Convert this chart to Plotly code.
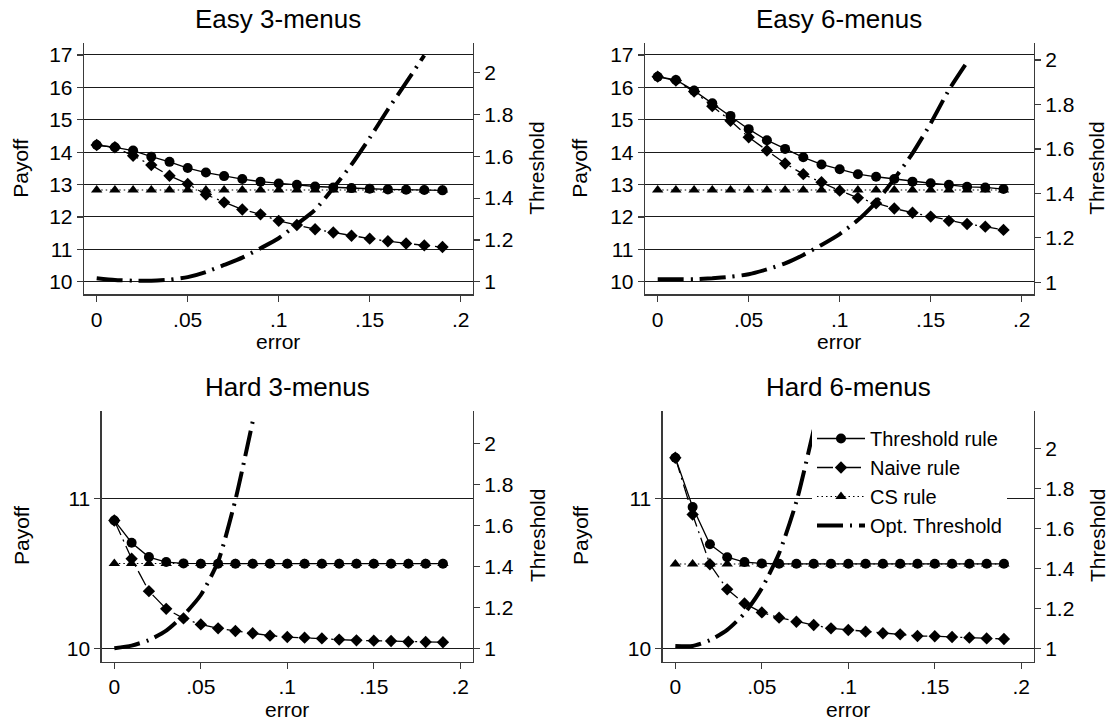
import plotly.graph_objects as go

# ---------------- data ----------------
error = [0.00, 0.01, 0.02, 0.03, 0.04, 0.05, 0.06, 0.07, 0.08, 0.09,
         0.10, 0.11, 0.12, 0.13, 0.14, 0.15, 0.16, 0.17, 0.18, 0.19]

# Easy 3-menus
thr_e3 = [14.22, 14.15, 14.05, 13.86, 13.70, 13.51, 13.37, 13.26, 13.17, 13.09,
          13.03, 12.99, 12.94, 12.91, 12.89, 12.87, 12.85, 12.84, 12.83, 12.82]
naive_e3 = [14.22, 14.15, 13.89, 13.60, 13.27, 13.02, 12.69, 12.45, 12.23, 12.08,
            11.88, 11.75, 11.62, 11.52, 11.42, 11.33, 11.25, 11.18, 11.12, 11.07]
cs_e3 = [12.83, 12.83, 12.83, 12.83, 12.83, 12.83, 12.83, 12.83, 12.83, 12.83,
         12.83, 12.83, 12.83, 12.83, 12.83, 12.83, 12.83, 12.83, 12.83, 12.83]
opt_err_e3 = [0.00, 0.01, 0.02, 0.03, 0.04, 0.05, 0.06, 0.07, 0.08, 0.09,
              0.10, 0.11, 0.12, 0.13, 0.14, 0.15, 0.16, 0.17, 0.18]
opt_e3 = [1.016, 1.008, 1.005, 1.005, 1.010, 1.022, 1.046, 1.080, 1.115, 1.160,
          1.208, 1.275, 1.344, 1.448, 1.560, 1.688, 1.824, 1.952, 2.083]

# Easy 6-menus
thr_e6 = [16.33, 16.23, 15.90, 15.51, 15.12, 14.71, 14.37, 14.10, 13.84, 13.62,
          13.47, 13.32, 13.24, 13.17, 13.09, 13.04, 12.99, 12.93, 12.91, 12.86]
naive_e6 = [16.33, 16.21, 15.87, 15.42, 14.97, 14.46, 14.05, 13.65, 13.32, 13.07,
            12.81, 12.59, 12.42, 12.26, 12.13, 12.01, 11.88, 11.78, 11.70, 11.60]
cs_e6 = [12.83, 12.83, 12.83, 12.83, 12.83, 12.83, 12.83, 12.83, 12.83, 12.83,
         12.83, 12.83, 12.83, 12.83, 12.83, 12.83, 12.83, 12.83, 12.83, 12.83]
opt_err_e6 = [0.00, 0.01, 0.02, 0.03, 0.04, 0.05, 0.06, 0.07, 0.08, 0.09,
              0.10, 0.11, 0.12, 0.13, 0.14, 0.15, 0.16, 0.17]
opt_e6 = [1.014, 1.014, 1.014, 1.018, 1.025, 1.036, 1.058, 1.085, 1.123, 1.168,
          1.217, 1.280, 1.360, 1.465, 1.580, 1.715, 1.865, 1.990]

# Hard 3-menus
thr_h3 = [10.852, 10.704, 10.608, 10.575, 10.566, 10.564, 10.564, 10.564, 10.564, 10.564,
          10.564, 10.564, 10.564, 10.564, 10.564, 10.564, 10.564, 10.564, 10.564, 10.564]
naive_h3 = [10.852, 10.597, 10.381, 10.263, 10.199, 10.159, 10.133, 10.115, 10.100, 10.084,
            10.075, 10.071, 10.066, 10.058, 10.053, 10.051, 10.049, 10.044, 10.042, 10.040]
cs_h3 = [10.565, 10.565, 10.565, 10.565, 10.565, 10.565, 10.565, 10.565, 10.565, 10.565,
         10.565, 10.565, 10.565, 10.565, 10.565, 10.565, 10.565, 10.565, 10.565, 10.565]
opt_err_h3 = [0.00, 0.01, 0.02, 0.03, 0.04, 0.05, 0.06, 0.07, 0.08]
opt_h3 = [1.000, 1.013, 1.040, 1.086, 1.161, 1.260, 1.423, 1.724, 2.106]

# Hard 6-menus
thr_h6 = [11.270, 10.942, 10.693, 10.607, 10.575, 10.566, 10.563, 10.563, 10.563, 10.563,
          10.563, 10.563, 10.563, 10.563, 10.563, 10.563, 10.563, 10.563, 10.563, 10.563]
naive_h6 = [11.270, 10.892, 10.560, 10.393, 10.299, 10.239, 10.204, 10.177, 10.155, 10.133,
            10.122, 10.111, 10.100, 10.093, 10.082, 10.080, 10.075, 10.071, 10.066, 10.062]
cs_h6 = [10.562, 10.562, 10.562, 10.562, 10.562, 10.562, 10.562, 10.562, 10.562, 10.562,
         10.562, 10.562, 10.562, 10.562, 10.562, 10.562, 10.562, 10.562, 10.562, 10.562]
opt_err_h6 = [0.00, 0.01, 0.02, 0.03, 0.04, 0.05, 0.06, 0.07, 0.08]
opt_h6 = [1.012, 1.012, 1.040, 1.092, 1.175, 1.300, 1.475, 1.733, 2.092]

titles = ["Easy 3-menus", "Easy 6-menus", "Hard 3-menus", "Hard 6-menus"]
series_names = ["Threshold rule", "Naive rule", "CS rule", "Opt. Threshold"]
x_tickvals = [0, 0.05, 0.1, 0.15, 0.2]
x_ticktext = ["0", ".05", ".1", ".15", ".2"]
left_ticks_top = [10, 11, 12, 13, 14, 15, 16, 17]
left_ticks_bottom = [10, 11]
right_tickvals = [1, 1.2, 1.4, 1.6, 1.8, 2]
right_ticktext = ["1", "1.2", "1.4", "1.6", "1.8", "2"]

panels = [
    (thr_e3, naive_e3, cs_e3, opt_err_e3, opt_e3),
    (thr_e6, naive_e6, cs_e6, opt_err_e6, opt_e6),
    (thr_h3, naive_h3, cs_h3, opt_err_h3, opt_h3),
    (thr_h6, naive_h6, cs_h6, opt_err_h6, opt_h6),
]

# ---------------- layout geometry (pixels) ----------------
W, H = 1112, 724
FONT = "Liberation Sans, Arial, Helvetica, sans-serif"
# (left, right, top, bottom) of each plot area in pixels
boxes = [
    (84.0, 472.7, 43.3, 294.3),
    (645.0, 1033.7, 43.3, 294.3),
    (101.7, 472.7, 410.5, 661.5),
    (662.7, 1033.7, 410.5, 661.5),
]
x_ranges = [[-0.00698, 0.2066], [-0.00698, 0.2066], [-0.0073, 0.2072], [-0.0073, 0.2072]]
yl_ranges = [[9.611, 17.361], [9.611, 17.361], [9.912, 11.585], [9.912, 11.585]]
yr_ranges = [[0.9397, 2.1407], [0.946, 2.075], [0.9356, 2.160], [0.934, 2.189]]
left_ticks = [left_ticks_top, left_ticks_top, left_ticks_bottom, left_ticks_bottom]

AXIS_COLOR = "#3a3a3a"
TICK_FONT = dict(family=FONT, size=21, color="black")
fig = go.Figure()

for i, (thr, naive, cs, opt_x, opt_y) in enumerate(panels):
    n = i + 1
    xa = "x" if n == 1 else f"x{n}"
    ya = "y" if n == 1 else f"y{n}"
    yr = f"y{n + 4}"
    show = (i == 3)
    fig.add_trace(go.Scatter(
        x=error, y=thr, xaxis=xa, yaxis=ya, mode="lines+markers",
        name=series_names[0], legendgroup="thr", showlegend=show,
        line=dict(color="black", width=1.3),
        marker=dict(symbol="circle", size=10, color="black")))
    fig.add_trace(go.Scatter(
        x=error, y=naive, xaxis=xa, yaxis=ya, mode="lines+markers",
        name=series_names[1], legendgroup="naive", showlegend=show,
        line=dict(color="black", width=1.3, dash="16px,5px,2px,5px"),
        marker=dict(symbol="diamond", size=9.5, color="black")))
    fig.add_trace(go.Scatter(
        x=error, y=cs, xaxis=xa, yaxis=ya, mode="lines+markers",
        name=series_names[2], legendgroup="cs", showlegend=show,
        line=dict(color="black", width=1.1, dash="1.5px,3px"),
        marker=dict(symbol="triangle-up", size=10, color="black")))
    fig.add_trace(go.Scatter(
        x=opt_x, y=opt_y, xaxis=xa, yaxis=yr, mode="lines",
        name=series_names[3], legendgroup="opt", showlegend=show,
        line=dict(color="black", width=4, dash="26px,7px,2px,7px", shape="spline", smoothing=0.6)))

    L, R, T, B = boxes[i]
    xdom = [L / W, R / W]
    ydom = [(H - B) / H, (H - T) / H]
    xkey = "xaxis" if n == 1 else f"xaxis{n}"
    ykey = "yaxis" if n == 1 else f"yaxis{n}"
    yrkey = f"yaxis{n + 4}"
    fig.layout[xkey] = dict(
        domain=xdom, range=x_ranges[i], anchor=ya,
        tickmode="array", tickvals=x_tickvals, ticktext=x_ticktext,
        showgrid=False, zeroline=False, showline=True, linecolor=AXIS_COLOR, linewidth=1.3,
        ticks="outside", ticklen=6, tickwidth=1.2, tickcolor=AXIS_COLOR,
        tickfont=TICK_FONT, fixedrange=True)
    fig.layout[ykey] = dict(
        domain=ydom, range=yl_ranges[i], anchor=xa,
        tickmode="array", tickvals=left_ticks[i],
        showgrid=True, gridcolor="#1a1a1a", gridwidth=1,
        zeroline=False, showline=True, linecolor=AXIS_COLOR, linewidth=1.3,
        ticks="outside", ticklen=6, tickwidth=1.2, tickcolor=AXIS_COLOR,
        tickfont=TICK_FONT, fixedrange=True)
    fig.layout[yrkey] = dict(
        domain=ydom, range=yr_ranges[i], anchor=xa, overlaying=ya, side="right",
        tickmode="array", tickvals=right_tickvals, ticktext=right_ticktext,
        showgrid=False, zeroline=False, showline=True, linecolor=AXIS_COLOR, linewidth=1.3,
        ticks="outside", ticklen=6, tickwidth=1.2, tickcolor=AXIS_COLOR,
        tickfont=TICK_FONT, fixedrange=True)

    cx = (L + R) / 2
    # subplot title
    fig.add_annotation(x=cx / W, y=(H - (T - 24)) / H, xref="paper", yref="paper",
                       text=titles[i], showarrow=False, xanchor="center", yanchor="middle",
                       font=dict(family=FONT, size=26, color="black"))
    # x axis title
    fig.add_annotation(x=cx / W, y=(H - (B + 47.5)) / H, xref="paper", yref="paper",
                       text="error", showarrow=False, xanchor="center", yanchor="middle",
                       font=dict(family=FONT, size=21, color="black"))
    cy = (T + B) / 2
    payoff_x = 21 if i in (0, 2) else 580
    thr_x = 537 if i in (0, 2) else 1097
    fig.add_annotation(x=payoff_x / W, y=(H - cy) / H, xref="paper", yref="paper",
                       text="Payoff", showarrow=False, textangle=-90,
                       xanchor="center", yanchor="middle",
                       font=dict(family=FONT, size=21, color="black"))
    fig.add_annotation(x=thr_x / W, y=(H - cy) / H, xref="paper", yref="paper",
                       text="Threshold", showarrow=False, textangle=-90,
                       xanchor="center", yanchor="middle",
                       font=dict(family=FONT, size=21, color="black"))

fig.update_layout(
    width=W, height=H,
    margin=dict(l=0, r=0, t=0, b=0),
    paper_bgcolor="white", plot_bgcolor="white",
    font=dict(family=FONT, color="black"),
    legend=dict(x=812 / W, y=(H - 419) / H, xanchor="left", yanchor="top",
                bgcolor="white", borderwidth=0, itemwidth=48,
                font=dict(family=FONT, size=20, color="black"),
                tracegroupgap=0),
)

# remove the default 8px page margin so the figure sits at the window's top-left corner
fig.write_html("out.html",
               config={"displayModeBar": False, "staticPlot": True},
               post_script="document.body.style.margin='0';document.body.style.overflow='hidden';")
